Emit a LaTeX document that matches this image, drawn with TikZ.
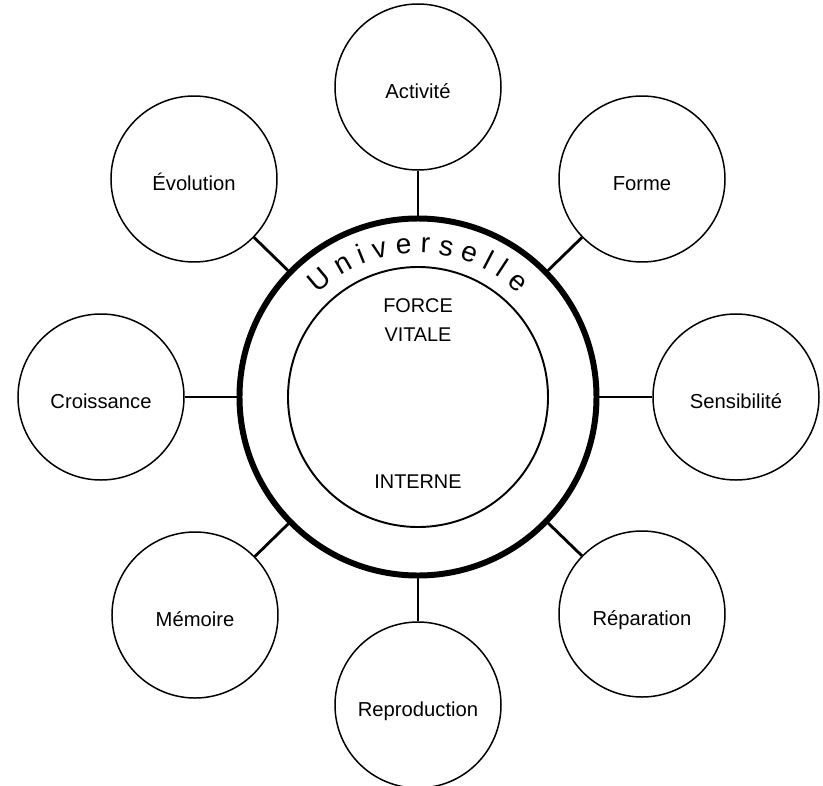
\documentclass[tikz,border=0pt]{standalone}
\usepackage{fontspec}
\setmainfont{Liberation Sans}
\usetikzlibrary{decorations.text}

\tikzset{
	sat/.style={circle, draw, line width=0.85pt, minimum size=3.32cm, inner sep=0pt,
		text height=1.6em, text depth=0.25em, font=\fontsize{11.5}{13}\selectfont},
	link/.style={line width=1.6pt},
	core/.style={font=\fontsize{11.3}{13}\selectfont}
}

\begin{document}
\begin{tikzpicture}
	\useasboundingbox (-8.36,-7.76) rectangle (8.10,7.94);
	% the two middle circles
	\node[circle, draw, line width=3.4pt, minimum size=7.14cm, inner sep=0pt] (ring) at (0,0) {};
	\draw[line width=1.1pt] (0,0) circle (2.6);
	\path[decorate, decoration={text along path, text align={fit to path},
		text format delimiters={|}{|}, text={|\fontsize{16}{18}\selectfont|Universelle}}]
		(134:2.88) arc (134:46:2.88);
	\node[core] (force) at (0,1.82) {FORCE};
	\node[core] (vitale) at (0,1.24) {VITALE};
	\node[core] (interne) at (0,-1.7) {INTERNE};
	% the eight outer circles
	\node[sat] (act) at (0,6.2) {Activité};
	\node[sat] (forme) at (4.48,4.36) {Forme};
	\node[sat] (sens) at (6.36,0) {Sensibilité};
	\node[sat] (repar) at (4.48,-4.34) {Réparation};
	\node[sat] (repro) at (0,-6.16) {Reproduction};
	\node[sat] (mem) at (-4.46,-4.36) {Mémoire};
	\node[sat] (crois) at (-6.34,0) {Croissance};
	\node[sat] (evol) at (-4.48,4.36) {Évolution};
	\draw[link] (act) -- (ring);
	\draw[link] (forme) -- (ring);
	\draw[link] (sens) -- (ring);
	\draw[link] (repar) -- (ring);
	\draw[link] (repro) -- (ring);
	\draw[link] (mem) -- (ring);
	\draw[link] (crois) -- (ring);
	\draw[link] (evol) -- (ring);
\end{tikzpicture}
\end{document}
